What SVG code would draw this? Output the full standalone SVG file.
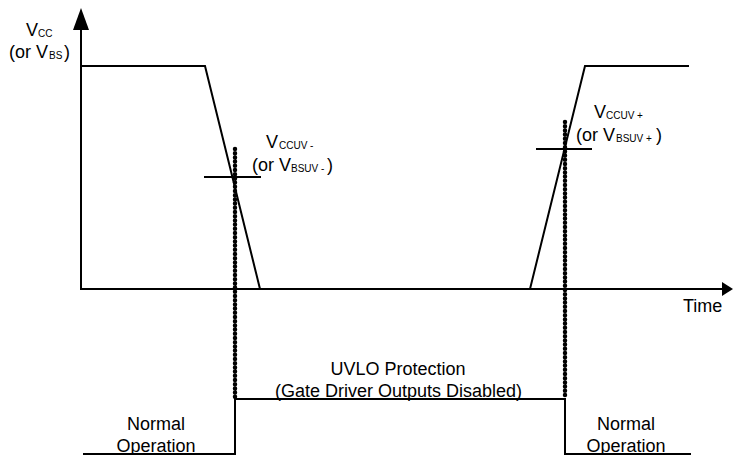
<svg xmlns="http://www.w3.org/2000/svg" width="733" height="455" viewBox="0 0 733 455">
<style>
.ln{stroke:#000;stroke-width:2;fill:none}
.dot{stroke:#000;stroke-width:4.5;stroke-linecap:round;stroke-dasharray:0 4.2;fill:none}
.t{font-family:"Liberation Sans",Arial,sans-serif;font-size:18px;fill:#000}
.s{font-size:10px}
.c{text-anchor:middle}
</style>
<rect width="733" height="455" fill="#fff"/>
<g id="axes">
<line class="ln" x1="81" y1="290" x2="81" y2="26"/>
<polygon points="81,8 73,30 89,30" fill="#000"/>
<line class="ln" x1="80" y1="289" x2="724" y2="289"/>
<polygon points="733,289 722,282 722,296" fill="#000"/>
</g>
<g id="waveform">
<polyline class="ln" points="81,66 205,66 260,289"/>
<polyline class="ln" points="530,289 585,66 689,66"/>
<line class="ln" x1="204" y1="177" x2="261" y2="177"/>
<line class="ln" x1="536" y1="149" x2="592" y2="149"/>
</g>
<g id="markers">
<line class="dot" x1="235" y1="149" x2="235" y2="399"/>
<line class="dot" x1="565" y1="122" x2="565" y2="399"/>
</g>
<g id="status">
<polyline class="ln" points="83,454 235,454 235,399 565,399 565,454 691,454"/>
</g>
<g id="labels">
<text class="t" x="26" y="36">V<tspan class="s" x="38" y="37">CC</tspan></text>
<text class="t" x="9" y="58">(or V<tspan class="s" x="49" y="59">BS</tspan><tspan x="64" y="58">)</tspan></text>
<text class="t" x="266" y="148">V<tspan class="s" x="279" y="149">CCUV -</tspan></text>
<text class="t" x="252" y="171">(or V<tspan class="s" x="291" y="172">BSUV -</tspan><tspan x="327" y="171">)</tspan></text>
<text class="t" x="594" y="118">V<tspan class="s" x="606" y="119">CCUV +</tspan></text>
<text class="t" x="576" y="141">(or V<tspan class="s" x="616" y="142">BSUV +</tspan><tspan x="656" y="141">)</tspan></text>
<text class="t" x="683" y="312">Time</text>
<text class="t c" x="398" y="375">UVLO Protection</text>
<text class="t" x="275" y="397">(Gate Driver Outputs Disabled)</text>
<text class="t c" x="156" y="430">Normal</text>
<text class="t c" x="156" y="452">Operation</text>
<text class="t c" x="626" y="430">Normal</text>
<text class="t c" x="626" y="452">Operation</text>
</g>
</svg>
